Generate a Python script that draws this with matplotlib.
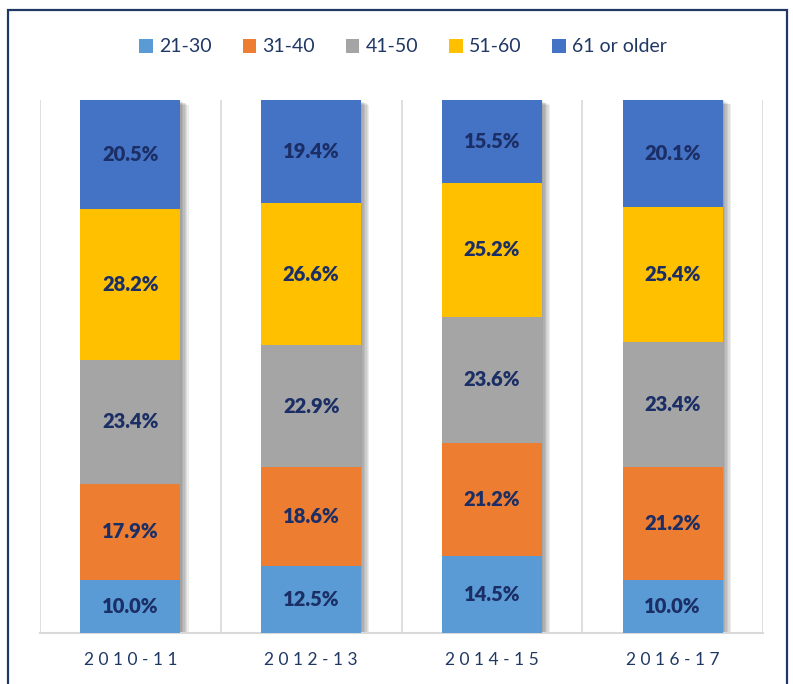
import matplotlib.pyplot as plt
import matplotlib.patheffects as pe
from matplotlib.patches import Rectangle
import numpy as np

plt.rcParams['font.family'] = ['Lato', 'DejaVu Sans']

# 数据
years = ['2010-11', '2012-13', '2014-15', '2016-17']
groups = ['21-30', '31-40', '41-50', '51-60', '61 or older']
v_21_30 = [10.0, 12.5, 14.5, 10.0]
v_31_40 = [17.9, 18.6, 21.2, 21.2]
v_41_50 = [23.4, 22.9, 23.6, 23.4]
v_51_60 = [28.2, 26.6, 25.2, 25.4]
v_61_up = [20.5, 19.4, 15.5, 20.1]
series = [v_21_30, v_31_40, v_41_50, v_51_60, v_61_up]

colors = ['#5B9BD5', '#ED7D31', '#A5A5A5', '#FFC000', '#4472C4']
navy = '#1F3864'
label_color = '#1B2F66'

fig = plt.figure(figsize=(7.93, 6.84), dpi=100)
ax = fig.add_axes([40 / 793, 51 / 684, 723 / 793, 533 / 684])

x = np.arange(len(years))
bw = 0.553
totals = np.sum(series, axis=0)

# 柱子阴影（只画阴影，不画本体）
shadow = [pe.SimplePatchShadow(offset=(k, -k * 0.6), shadow_rgbFace='black', alpha=0.07)
          for k in range(1, 7)]
ax.bar(x, totals, width=bw, color='white', zorder=2, path_effects=shadow)

bottom = np.zeros(len(years))
for vals, name, c in zip(series, groups, colors):
    vals = np.array(vals)
    ax.bar(x, vals, width=bw, bottom=bottom, color=c, label=name, zorder=3)
    for xi, v, b0 in zip(x, vals, bottom):
        ax.text(xi, b0 + v / 2, f'{v:.1f}%', ha='center', va='center',
                fontsize=14.5, fontweight='heavy', color=label_color, zorder=4)
    bottom += vals

ax.set_xlim(-0.5, len(years) - 0.5)
ax.set_ylim(0, 100)
ax.set_yticks([])
ax.set_xticks(x)
ax.set_xticklabels([' '.join(y) for y in years], fontsize=12.5, color=navy)
ax.tick_params(axis='x', length=0, pad=14)

# 类别分隔线
for xb in np.arange(-0.5, len(years), 1.0):
    ax.axvline(xb, color='#D9D9D9', lw=1.2, zorder=1)
for s in ['top', 'right', 'left']:
    ax.spines[s].set_visible(False)
ax.spines['bottom'].set_color('#D9D9D9')
ax.spines['bottom'].set_linewidth(1.5)

# 图例
fig.legend(loc='center', bbox_to_anchor=(403 / 793, 1 - 47 / 684), ncol=5, frameon=False,
           fontsize=14, handlelength=0.7, handleheight=0.7, handletextpad=0.3,
           columnspacing=1.6, labelcolor=navy)

# 外框
fig.patches.append(Rectangle((8 / 793, -0.05), 779 / 793, 1.05 - 10 / 684,
                             transform=fig.transFigure, fill=False,
                             edgecolor=navy, lw=1.6))

plt.savefig('out.png', dpi=100)
